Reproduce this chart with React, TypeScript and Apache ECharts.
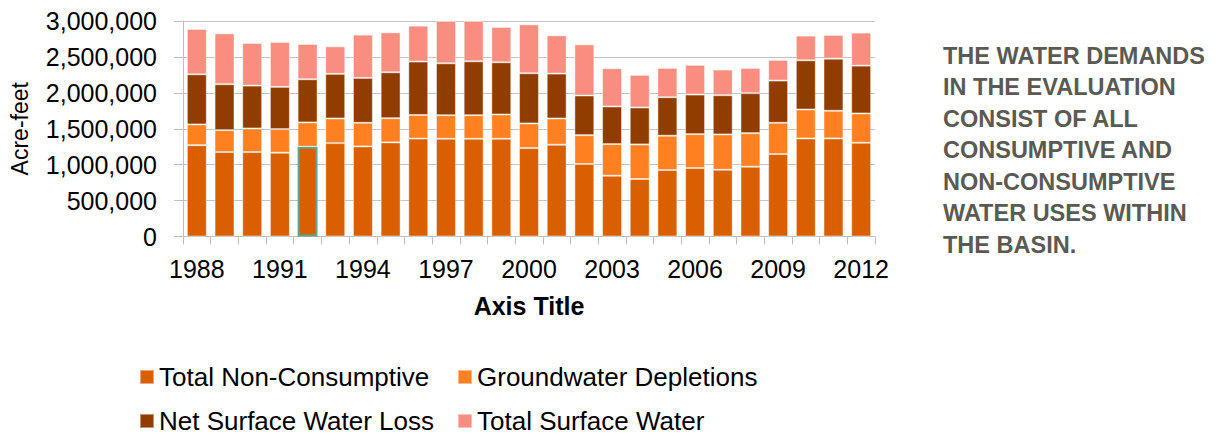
import React, { useEffect, useRef } from "react";
import * as echarts from "echarts";

const years = [
  "1988", "1989", "1990", "1991", "1992", "1993", "1994", "1995", "1996", "1997",
  "1998", "1999", "2000", "2001", "2002", "2003", "2004", "2005", "2006", "2007",
  "2008", "2009", "2010", "2011", "2012",
];

const totalNonConsumptive = [
  1272000, 1175000, 1175000, 1167000, 1250000, 1300000, 1254000, 1310000, 1363000, 1361000,
  1361000, 1361000, 1231000, 1278000, 1009000, 847000, 800000, 925000, 953000, 930000,
  972000, 1147000, 1365000, 1365000, 1305000,
];

const groundwaterDepletions = [
  288000, 306000, 329000, 328000, 338000, 343000, 329000, 337000, 329000, 328000,
  328000, 338000, 343000, 365000, 402000, 439000, 482000, 478000, 472000, 491000,
  467000, 436000, 403000, 385000, 408000,
];

const netSurfaceWaterLoss = [
  698000, 639000, 597000, 588000, 601000, 621000, 625000, 639000, 743000, 722000,
  750000, 726000, 699000, 625000, 552000, 524000, 514000, 536000, 551000, 546000,
  556000, 588000, 685000, 726000, 666000,
];

const totalSurfaceWater = [
  631000, 708000, 593000, 625000, 491000, 383000, 602000, 556000, 500000, 589000,
  561000, 492000, 680000, 532000, 712000, 532000, 454000, 408000, 413000, 357000,
  352000, 287000, 343000, 330000, 459000,
];

const seriesNames = [
  "Total Non-Consumptive",
  "Groundwater Depletions",
  "Net Surface Water Loss",
  "Total Surface Water",
];

const seriesColors = ["#d95f00", "#fe8021", "#913d00", "#f88d80"];

const noteLines = [
  "THE WATER DEMANDS",
  "IN THE EVALUATION",
  "CONSIST OF ALL",
  "CONSUMPTIVE AND",
  "NON-CONSUMPTIVE",
  "WATER USES WITHIN",
  "THE BASIN.",
];

const highlightedIndex = 4;

const FONT = "'Liberation Sans', Arial, Helvetica, sans-serif";

export default function App() {
  const ref = useRef<HTMLDivElement>(null);

  useEffect(() => {
    if (!ref.current) return;
    const chart = echarts.init(ref.current, undefined, { renderer: "svg" });

    const seriesData = [
      totalNonConsumptive.map((v, i) =>
        i === highlightedIndex
          ? { value: v, itemStyle: { borderColor: "#5ba88c", borderWidth: 2 } }
          : v
      ),
      groundwaterDepletions,
      netSurfaceWaterLoss,
      totalSurfaceWater,
    ];

    const legendPos = [
      { left: 139, top: 364 },
      { left: 457, top: 364 },
      { left: 139, top: 408 },
      { left: 457, top: 408 },
    ];

    const option = {
      animation: false,
      grid: { left: 183, right: 346, top: 21, bottom: 198.5, containLabel: false },
      legend: seriesNames.map((name, i) => ({
        data: [name],
        left: legendPos[i].left,
        top: legendPos[i].top,
        padding: 0,
        icon: "rect",
        itemWidth: 14,
        itemHeight: 14,
        selectedMode: false,
        textStyle: { fontFamily: FONT, fontSize: 26, color: "#000" },
      })),
      xAxis: {
        type: "category",
        data: years,
        name: "Axis Title",
        nameLocation: "middle",
        nameGap: 57,
        nameTextStyle: { fontFamily: FONT, fontSize: 25, fontWeight: "bold", color: "#000" },
        axisLine: { show: true, lineStyle: { color: "#bfbfbf", width: 1 } },
        axisTick: { show: true, interval: 0, length: 8, lineStyle: { color: "#bfbfbf" } },
        axisLabel: {
          interval: 2,
          margin: 20,
          fontFamily: FONT,
          fontSize: 25,
          color: "#000",
        },
      },
      yAxis: {
        type: "value",
        min: 0,
        max: 3000000,
        interval: 500000,
        name: "Acre-feet",
        nameLocation: "middle",
        nameGap: 152,
        nameTextStyle: { fontFamily: FONT, fontSize: 23, color: "#000" },
        axisLine: { show: true, lineStyle: { color: "#bfbfbf", width: 1 } },
        axisTick: { show: true, length: 9, lineStyle: { color: "#bfbfbf" } },
        splitLine: { show: true, lineStyle: { color: "#c4c4c4", width: 1 } },
        axisLabel: {
          margin: 26,
          fontFamily: FONT,
          fontSize: 25,
          color: "#000",
          formatter: (v: number) => v.toLocaleString("en-US"),
        },
      },
      series: seriesNames.map((name, i) => ({
        name,
        type: "bar",
        stack: "total",
        data: seriesData[i],
        barCategoryGap: "28%",
        itemStyle: {
          color: seriesColors[i],
          borderColor: "rgba(255,255,255,0.45)",
          borderWidth: 1,
        },
        emphasis: { disabled: true },
      })),
      graphic: [
        {
          type: "text",
          left: 943,
          top: 40,
          style: {
            text: noteLines.join("\n"),
            fontFamily: FONT,
            fontSize: 23.5,
            fontWeight: "bold",
            lineHeight: 31.5,
            fill: "#5a5a54",
          },
        },
      ],
    };

    chart.setOption(option as any);
    return () => chart.dispose();
  }, []);

  return (
    <div
      ref={ref}
      style={{ position: "fixed", left: 0, top: 0, width: 1221, height: 435, background: "#fff" }}
    />
  );
}
